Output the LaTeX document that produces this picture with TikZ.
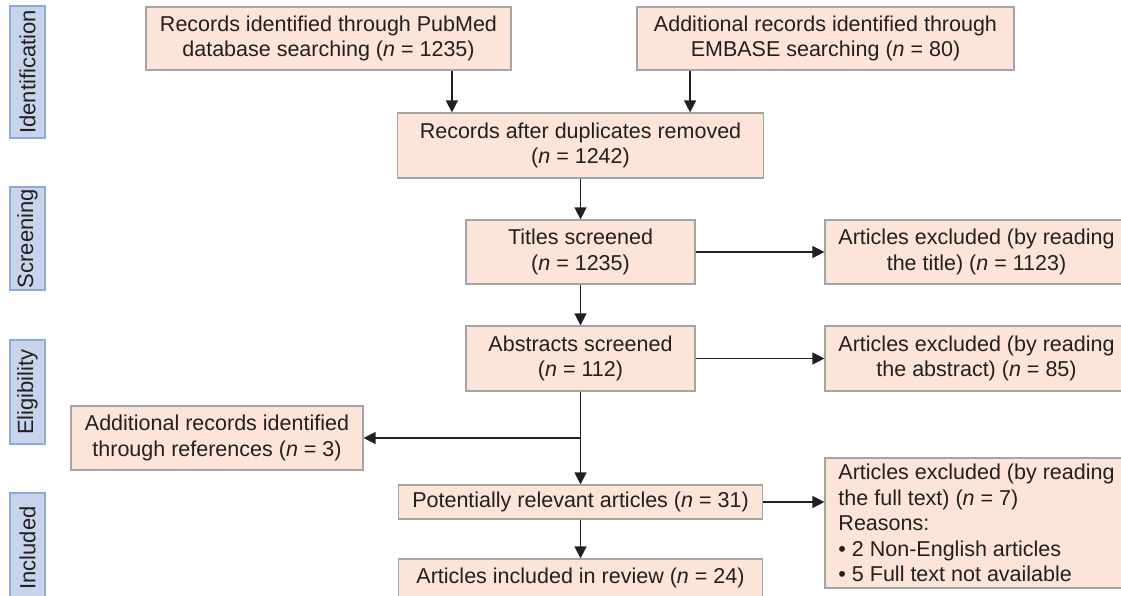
\documentclass[tikz,border=0pt]{standalone}
\usepackage{fontspec}
\setmainfont{Liberation Sans}
\usetikzlibrary{arrows.meta, positioning, calc}

\definecolor{boxfill}{HTML}{FCE4D9}
\definecolor{boxedge}{HTML}{A5A5A5}
\definecolor{stagefill}{HTML}{C7D4EC}
\definecolor{stageedge}{HTML}{8EAADB}
\definecolor{inkgray}{HTML}{231F20}

\begin{document}
\begin{tikzpicture}[
		x=1pt, y=-1pt,
		every node/.style={font=\fontsize{21.5}{25.5}\selectfont, text=inkgray},
		flowbox/.style={draw=boxedge, fill=boxfill, line width=1.2pt, align=center, inner sep=2pt},
		stagebox/.style={draw=stageedge, fill=stagefill, line width=1.2pt, rotate=90, inner sep=0pt, minimum height=35pt, font=\fontsize{22}{26}\selectfont},
		arrow/.style={-{Triangle[length=12pt, width=12pt]}, line width=1.3pt, draw=inkgray}
		]
		
		\useasboundingbox (0,0) rectangle (1121,595);
		
		% === STAGE LABELS ===
		\node[stagebox, minimum width=132pt] (identification) at (27.5, 72) {Identification};
		\node[stagebox, minimum width=103pt] (screening) at (27.5, 238.5) {Screening};
		\node[stagebox, minimum width=104pt] (eligibility) at (27.5, 392) {Eligibility};
		\node[stagebox, minimum width=110pt] (inclusion) at (27.5, 548) {Included};
		
		% === IDENTIFICATION ===
		\node[flowbox, minimum width=365pt, minimum height=63pt] (pubmed) at (328.5, 38.5)
		{Records identified through PubMed\\database searching (\textit{n} = 1235)};
		\node[flowbox, minimum width=377pt, minimum height=63pt] (embase) at (825.5, 38.5)
		{Additional records identified through\\EMBASE searching (\textit{n} = 80)};
		\node[flowbox, minimum width=366pt, minimum height=65pt] (dedup) at (580.5, 145.5)
		{Records after duplicates removed\\(\textit{n} = 1242)};
		
		\coordinate (dedupin1) at ([xshift=55pt]dedup.north west);
		\coordinate (dedupin2) at ([xshift=-74pt]dedup.north east);
		\draw[arrow] (dedupin1 |- pubmed.south) -- (dedupin1);
		\draw[arrow] (dedupin2 |- embase.south) -- (dedupin2);
		
		% === SCREENING ===
		\node[flowbox, minimum width=229pt, minimum height=64pt] (titles) at (580.5, 252)
		{Titles screened\\(\textit{n} = 1235)};
		\node[flowbox, minimum width=303pt, minimum height=64pt] (titlesout) at (976.5, 252)
		{Articles excluded (by reading\\the title) (\textit{n} = 1123)};
		
		\draw[arrow] (dedup) -- (titles);
		\draw[arrow] (titles) -- (titlesout);
		
		% === ELIGIBILITY ===
		\node[flowbox, minimum width=229pt, minimum height=65pt] (abstracts) at (580.5, 358.5)
		{Abstracts screened\\(\textit{n} = 112)};
		\node[flowbox, minimum width=303pt, minimum height=65pt] (abstractsout) at (976.5, 358.5)
		{Articles excluded (by reading\\the abstract) (\textit{n} = 85)};
		\node[flowbox, minimum width=292pt, minimum height=64pt] (references) at (217, 438)
		{Additional records identified\\through references (\textit{n} = 3)};
		
		\draw[arrow] (titles) -- (abstracts);
		\draw[arrow] (abstracts) -- (abstractsout);
		
		% === INCLUDED ===
		\node[flowbox, minimum width=364pt, minimum height=34pt] (relevant) at (580.5, 502)
		{Potentially relevant articles (\textit{n} = 31)};
		\node[flowbox, minimum width=364pt, minimum height=38pt] (included) at (580.5, 578)
		{Articles included in review (\textit{n} = 24)};
		\node[flowbox, align=left, minimum width=303pt, minimum height=130pt] (fulltextout) at (976.5, 523)
		{Articles excluded (by reading\\the full text) (\textit{n} = 7)\\Reasons:\\• 2 Non-English articles\\• 5 Full text not available};
		
		% branch towards the reference search
		\coordinate (branch) at (abstracts.south |- references.east);
		\draw[arrow] (abstracts.south) -- (relevant.north);
		\draw[arrow] (branch) -- (references.east);
		
		\draw[arrow] (relevant.east) -- (relevant.east -| fulltextout.west);
		\draw[arrow] (relevant) -- (included);
		
	\end{tikzpicture}
\end{document}
